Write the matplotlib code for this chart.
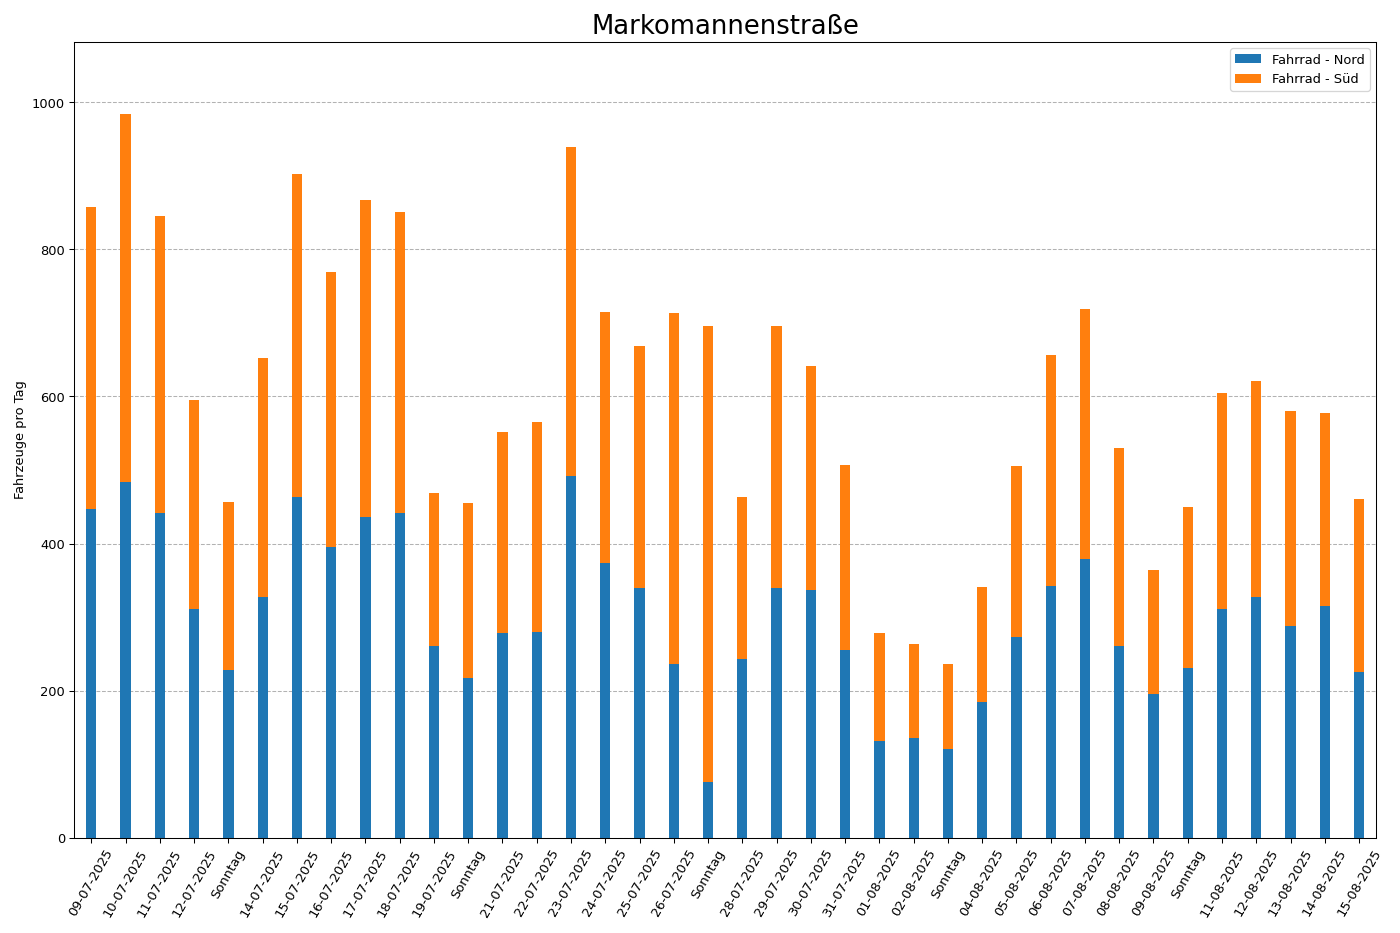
import matplotlib
matplotlib.use("Agg")
import matplotlib.pyplot as plt
import numpy as np

tage = ["09-07-2025", "10-07-2025", "11-07-2025", "12-07-2025", "Sonntag",
        "14-07-2025", "15-07-2025", "16-07-2025", "17-07-2025", "18-07-2025",
        "19-07-2025", "Sonntag", "21-07-2025", "22-07-2025", "23-07-2025",
        "24-07-2025", "25-07-2025", "26-07-2025", "Sonntag", "28-07-2025",
        "29-07-2025", "30-07-2025", "31-07-2025", "01-08-2025", "02-08-2025",
        "Sonntag", "04-08-2025", "05-08-2025", "06-08-2025", "07-08-2025",
        "08-08-2025", "09-08-2025", "Sonntag", "11-08-2025", "12-08-2025",
        "13-08-2025", "14-08-2025", "15-08-2025"]

rad_nord = [447, 484, 442, 311, 228, 328, 464, 395, 436, 441,
            261, 217, 279, 280, 492, 373, 340, 236, 76, 243,
            340, 337, 256, 131, 136, 121, 184, 273, 342, 379,
            261, 195, 231, 311, 327, 288, 315, 226]

rad_sued = [411, 500, 404, 284, 229, 324, 439, 374, 431, 410,
            208, 238, 273, 285, 447, 342, 328, 477, 620, 221,
            356, 304, 251, 148, 128, 115, 157, 233, 315, 340,
            269, 169, 219, 294, 294, 292, 262, 234]

x = np.arange(len(tage))
breite = 0.3

fig, ax = plt.subplots(figsize=(15, 10), dpi=1400 / 15)
ax.bar(x, rad_nord, breite, label="Fahrrad - Nord", color="#1f77b4")
ax.bar(x, rad_sued, breite, bottom=rad_nord, label="Fahrrad - Süd", color="#ff7f0e")

gesamt = np.array(rad_nord) + np.array(rad_sued)
ax.set_xlim(-0.5, len(tage) - 0.5)
ax.set_ylim(0, gesamt.max() * 1.1)
ax.set_xticks(x)
ax.set_xticklabels(tage, rotation=60)
ax.set_ylabel("Fahrzeuge pro Tag")
ax.set_title("Markomannenstraße", fontsize=20)
ax.grid(axis="y", linestyle="--", color="gray", alpha=0.6)
ax.set_axisbelow(True)
ax.legend(loc="upper right")

fig.subplots_adjust(left=0.053, right=0.983, top=0.955, bottom=0.102)
fig.savefig("out.png")
